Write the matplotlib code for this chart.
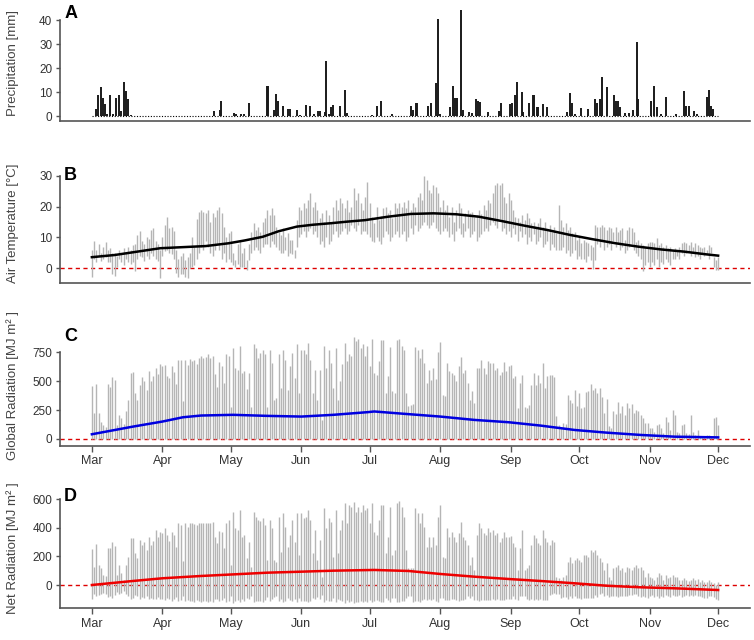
import numpy as np
import pandas as pd
import matplotlib
matplotlib.use("Agg")
import matplotlib.pyplot as plt

plt.rcParams['font.family'] = ['Liberation Sans', 'DejaVu Sans']

# --- data (day 0 = 1 March) ---
start = pd.Timestamp('2021-03-01')
end = pd.Timestamp('2021-12-01')

# precipitation events: day position, amount [mm]
prec_day = [1.9, 2.9, 4.0, 5.1, 5.9, 6.6, 8.1, 9.1, 10.7, 11.7, 12.7, 14.1, 15.1, 16.0, 17.1,
            53.7, 56.1, 56.8, 62.2, 63.1, 65.7, 66.6, 68.8, 76.9, 77.3, 79.8, 81.0, 81.7, 83.9,
            86.1, 87.1, 90.0, 91.2, 94.0, 95.9, 97.4, 99.1, 100.3, 102.5, 102.9, 104.0, 105.0,
            106.1, 109.1, 111.0, 112.0, 123.0, 125.0, 126.8, 132.0, 140.0, 141.0, 142.2, 142.9,
            147.8, 148.8, 151.0, 152.0, 152.7, 157.3, 158.7, 159.5, 160.2, 162.0, 163.1, 165.6,
            166.8, 168.6, 169.6, 170.5, 174.0, 178.8, 179.5, 183.6, 184.7, 185.7, 186.9, 188.8,
            189.5, 192.0, 193.5, 194.2, 195.3, 196.1, 198.3, 199.7, 208.5, 210.0, 211.0, 212.0,
            215.0, 217.9, 221.0, 221.7, 223.2, 224.2, 226.0, 229.3, 230.0, 231.2, 231.9, 234.0,
            235.9, 237.8, 239.3, 240.0, 245.7, 246.9, 248.1, 250.1, 252.0, 256.4, 260.1, 261.1,
            262.3, 264.2, 265.6, 269.9, 270.8, 271.8, 272.8]
prec_mm = [2.9, 8.6, 12.1, 7.4, 5.0, 1.0, 8.9, 1.0, 7.4, 8.9, 2.0, 14.1, 10.3, 7.1, 0.6,
           2.0, 2.7, 6.3, 1.4, 1.0, 1.0, 1.0, 5.6, 12.4, 12.4, 2.7, 9.3, 6.3, 4.1,
           2.9, 3.1, 2.7, 0.6, 4.4, 4.1, 1.0, 2.0, 2.0, 1.7, 22.9, 1.0, 3.9,
           4.4, 4.1, 10.7, 1.4, 0.6, 4.1, 6.3, 1.0, 4.1, 2.7, 5.3, 5.3,
           4.1, 5.6, 13.6, 40.3, 1.0, 3.6, 12.4, 7.4, 7.4, 44.1, 2.7, 1.7,
           1.4, 7.0, 6.3, 5.9, 1.7, 2.0, 5.6, 5.0, 5.6, 8.6, 14.1, 10.0,
           1.7, 5.3, 8.9, 8.9, 3.6, 3.9, 4.9, 3.6, 1.7, 9.6, 5.3, 1.0,
           3.4, 3.1, 7.1, 5.3, 7.0, 16.3, 12.0, 8.9, 6.3, 6.3, 3.9, 1.4,
           1.4, 2.4, 30.7, 7.0, 6.3, 12.7, 3.6, 1.0, 8.1, 1.0, 10.3, 4.1,
           4.1, 2.0, 1.0, 8.1, 11.0, 4.1, 3.1]

# daily air temperature range [degC]
tmax = [6, 8.8, 6, 8, 5, 7, 8.6, 6, 6.5, 5,
        5, 4, 6, 5, 6.5, 5, 7, 6, 7.5, 8,
        10.8, 12, 9, 8, 10, 9.5, 12.4, 13, 9, 8,
        6, 10, 14, 16.7, 13, 13.5, 12, 6, 3, 4,
        5, 2.7, 3.8, 5, 10, 7, 16, 18.3, 18.9, 18.3,
        17.8, 18.9, 15, 17.8, 16.7, 18.9, 20, 17.8, 13.5, 10.2,
        11.3, 12, 4.9, 2.7, 8, 9.2, 4.9, 6.5, 2.7, 8,
        11.9, 14.6, 12.4, 13.5, 11.9, 15.1, 16.2, 18.9, 17.3, 19.4,
        17.3, 13.5, 11.9, 10.8, 12.9, 10.2, 11.3, 9.2, 9.2, 5.9,
        15.6, 20, 18.9, 21, 19.4, 22, 24.3, 20, 21.6, 18.9,
        16.2, 17.8, 15.1, 18.9, 17.3, 14.6, 20, 22.1, 18.9, 22.7,
        21, 19.4, 22.1, 18.3, 20, 25.9, 22.1, 24.3, 21, 18.9,
        23.2, 28, 21, 16.7, 14.6, 20,
        15.6, 17, 19.4, 20, 17.8, 18.9, 16.2, 21, 19.4, 21,
        20, 21.6, 19.4, 22.1, 18.9, 21, 20, 23.2, 24.3, 22,
        30, 28.6, 25.4, 24.3, 27, 26.4, 24.3, 20, 22.1, 18.9,
        20.5, 16.7, 19.9, 15.1, 18.9, 21, 19.4, 14.6, 17.8, 18.9,
        17.8, 18.3, 16.7, 17.3, 18.9, 17.5, 20.5, 19, 22.1, 21,
        24.3, 27, 27.5, 27, 27.5, 23.2, 21, 24.3, 22.1, 18.9,
        16.7, 16.2, 15.1, 17.3, 15.6, 17.8, 16.2, 14.6, 15.1, 13.5,
        14.6, 16.2, 13.5, 15.1, 12.4, 14, 11.9, 13.5, 11.3, 20.5,
        15.6, 13.5, 14.6, 12.4, 13.5, 11.3, 11.9, 9.2, 10.2, 8.1,
        9.2, 8.6, 8.1, 7.5, 7, 14, 13.5, 13.5, 14, 13.5,
        12.4, 13.5, 12.9, 11.9, 13.5, 11.9, 12.4, 12.9, 9.2, 12.4,
        13.5, 12.9, 11.9, 8.6, 9.2, 8.1, 7.5, 7, 8.1, 8.6,
        8.6, 8.1, 9.7, 7.5, 8.1, 7, 7.5, 6.5, 7, 5.9,
        6.5, 5.9, 7, 8.1, 8.6, 8.1, 7.5, 8.6, 7, 8.1,
        7.5, 7, 6.5, 7, 5.9, 7.5, 7, 3.8, 2.7, 3.8]
tmin = [-2.7, 3, 2, 4, 2.5, 3, 3.5, 2, 2, -2,
        -2.5, 0.5, 3, 2, 1, 3, 2, 1.5, 2, -1,
        3, 4, 3.5, 2.5, 4, 3, 5, 4, 3, 2.5,
        -3.2, 4, 5.5, 6, 5, 4.5, 3, -1.6, -2.7, -2,
        -2, -2.7, -3.2, 0, 0.5, 1, 3, 5, 7, 6,
        9, 7, 5, 4, 6, 8, 6, 3, 5, 2,
        3, 2, 1, 0.3, 1.5, 0.3, 0.5, 0.5, -0.5, 2.7,
        5, 6, 7, 6, 5, 7, 8, 8, 7, 9,
        8, 7, 6, 5, 5, 6, 4, 5, 4.5, 3.2,
        7, 10, 11, 12, 10, 12, 13, 11, 12, 10,
        8, 9, 7, 10, 8, 9, 11, 12, 10, 11,
        12, 13, 11, 12, 14, 13, 12, 14, 11, 12,
        12, 11, 10, 9, 8.6, 10,
        9, 8, 10, 12, 11, 9, 10, 11, 12, 10,
        11, 12, 9, 10, 13, 11, 14, 12, 13, 14,
        15, 14, 13, 14, 15, 13, 12, 11, 12, 13,
        12, 10, 11, 9, 12, 13, 11, 10, 12, 13,
        10, 11, 12, 9, 10, 11, 12, 13, 12, 14,
        15, 14, 13, 16, 12, 13, 11, 12, 10, 13,
        11, 9, 12, 10, 11, 8, 10, 9, 11, 8,
        9, 10, 7, 8, 9, 6, 8, 7, 6, 5.9,
        6, 7, 5, 6, 4, 5, 6, 3, 4, 3,
        3, 2, 4, 2.7, -0.3, 2.7, 8, 7, 9, 6,
        7, 8, 6, 9, 7, 8, 6, 7, 5, 6,
        7, 8, 6, 5, 4, 3, -1, 1, 2, 0.5,
        2, 1, 3, 0.5, 2, 1.5, 3, 2, 1, 3,
        3, 4, 3, 5, 4, 5, 5.5, 4, 5, 3.5,
        4, 3, 5, 4, 4.5, 3, 5, 0.5, -0.5, -0.5]

# daily maximum global radiation
glob_max = [455, 223, 475, 223, 150, 122, 107, 475, 450, 536,
            513, 122, 209, 180, 128, 244, 339, 571, 580, 397,
            339, 470, 536, 499, 426, 592, 499, 548, 615, 565,
            652, 629, 644, 542, 528, 629, 577, 475, 687, 687,
            325, 687, 644, 693, 673, 680, 652, 702, 716, 702,
            710, 731, 702, 716, 565, 450, 664, 629, 484, 731,
            716, 281, 789, 615, 600, 803, 571, 585, 432, 571,
            281, 818, 789, 702, 745, 774, 731, 281, 768, 658,
            339, 354, 731, 441, 768, 687, 426, 629, 745, 528,
            818, 397, 774, 774, 731, 832, 687, 397, 600, 339,
            600, 165, 803, 615, 774, 658, 441, 789, 339, 499,
            652, 832, 673, 731, 722, 881, 847, 861, 789, 820,
            716, 803, 629,
            867, 571, 557, 673, 855, 855, 397, 548, 797, 412,
            397, 852, 861, 803, 774, 397, 287, 290, 300, 797, 768,
            702, 780, 658, 484, 600, 513, 615, 519, 751, 838,
            383, 368, 658, 592, 571, 557, 499, 629, 710, 571,
            600, 484, 339, 412, 310, 615, 615, 687, 615, 565,
            673, 658, 658, 600, 615, 557, 577, 664, 585, 629, 640,
            528, 542, 267, 484, 557, 281, 267, 296, 470, 571,
            470, 557, 484, 658, 441, 548, 557, 557, 540, 200, 122,
            93, 142, 130, 383, 339, 310, 426, 287, 397, 267,
            281, 403, 412, 478, 426, 441, 397, 441, 362, 223,
            345, 113, 93, 238, 217, 316, 223, 287, 209, 310,
            267, 304, 223, 252, 240, 209, 180, 142, 136, 93, 93,
            64, 122, 128, 93, 49, 188, 150, 78, 252, 209,
            64, 55, 122, 130, 49, 40, 209, 64, 35, 78, 20,
            26, 20, 35, 35, 26, 180, 186, 122]

# daily net radiation range
net_max = [249, 128, 284, 140, 116, 70, 63, 256, 256, 302,
           272, 70, 140, 81, 35, 140, 198, 326, 326, 221,
           186, 314, 279, 302, 244, 337, 279, 309, 384, 337,
           372, 360, 395, 349, 309, 372, 349, 267, 430, 419,
           170, 430, 407, 430, 430, 423, 419, 430, 430, 430,
           430, 430, 430, 442, 337, 291, 379, 372, 256, 430,
           453, 140, 512, 395, 384, 523, 337, 349, 186, 302,
           128, 512, 477, 453, 449, 465, 419, 174, 453, 395,
           174, 163, 477, 232, 500, 407, 267, 349, 453, 302,
           505, 209, 500, 465, 477, 523, 453, 221, 384, 174,
           314, 58, 535, 395, 465, 442, 198, 523, 221, 384,
           453, 570, 430, 558, 547, 579, 512, 547, 512, 558,
           523, 535, 430,
           570, 372, 349, 453, 558, 558, 221, 337, 547, 209,
           244, 570, 588, 547, 477, 244, 116, 116, 120, 535, 500,
           430, 500, 407, 267, 337, 267, 337, 279, 477, 558,
           198, 186, 395, 337, 372, 337, 302, 360, 442, 337,
           314, 279, 140, 198, 105, 349, 430, 395, 360, 349,
           395, 372, 384, 349, 360, 302, 326, 372, 337, 337, 340,
           291, 267, 105, 256, 384, 105, 116, 140, 279, 349,
           326, 291, 279, 384, 326, 302, 279, 314, 300, 58, 47,
           35, 58, 70, 163, 198, 151, 174, 186, 174, 163,
           209, 209, 198, 244, 232, 244, 209, 186, 163, 105,
           151, 58, 35, 116, 128, 140, 105, 116, 93, 128,
           116, 105, 128, 140, 120, 128, 105, 58, 81, 58, 47,
           35, 58, 81, 70, 35, 70, 47, 58, 70, 58,
           58, 35, 35, 47, 35, 30, 35, 47, 35, 42, 23,
           35, 23, 23, 35, 23, 12, 0, 23]
net_min = [-95, -60, -80, -70, -65, -55, -60, -85, -75, -90,
           -70, -50, -60, -55, -45, -65, -75, -95, -90, -70,
           -80, -95, -85, -90, -75, -100, -90, -95, -100, -85,
           -100, -95, -105, -90, -95, -110, -100, -85, -110, -105,
           -80, -110, -105, -115, -110, -120, -105, -115, -120, -110,
           -115, -120, -110, -118, -100, -95, -110, -105, -90, -120,
           -115, -80, -125, -110, -105, -120, -100, -110, -90, -100,
           -80, -120, -115, -110, -112, -118, -105, -85, -115, -100,
           -85, -80, -115, -95, -120, -110, -90, -105, -115, -95,
           -120, -90, -115, -110, -112, -120, -110, -90, -100, -85,
           -100, -70, -120, -105, -115, -110, -90, -120, -95, -105,
           -110, -125, -105, -120, -115, -125, -118, -120, -115, -120,
           -115, -118, -105, -120, -110, -105, -110, -120, -120, -90,
           -105, -118, -90, -90, -120, -122, -115, -112, -90, -80,
           -75, -118, -115, -110, -118, -108, -95, -105, -100, -108,
           -100, -115, -122, -90, -88, -108, -105, -102, -100, -96,
           -104, -110, -102, -105, -95, -80, -90, -78, -106, -108,
           -112, -106, -102, -108, -106, -106, -100, -102, -98, -106,
           -102, -104, -100, -100, -98, -75, -95, -105, -80, -78,
           -80, -100, -104, -98, -102, -95, -106, -96, -102, -104,
           -102, -70, -60, -55, -60, -62, -90, -85, -82, -95,
           -80, -90, -78, -88, -92, -96, -90, -94, -92, -88,
           -90, -70, -85, -60, -55, -75, -72, -85, -78, -80,
           -75, -82, -76, -80, -74, -78, -72, -70, -65, -62,
           -80, -85, -75, -82, -90, -78, -70, -85, -80, -88,
           -75, -82, -70, -78, -85, -72, -80, -76, -70, -82,
           -75, -70, -80, -72, -78, -70, -74, -80, -85, -90,
           -88, -80, -75, -85, -95, -105]

# smoothed seasonal curves (day, value)
temp_fit_day = [0, 10, 30, 50, 60, 67, 75, 82, 90, 97, 105, 112, 120, 130, 140, 150, 160,
                170, 180, 190, 200, 210, 220, 230, 240, 250, 260, 270, 275]
temp_fit = [3.6, 4.3, 6.5, 7.2, 8.1, 9.0, 10.2, 12.0, 13.5, 14.1, 14.6, 15.1, 15.6, 16.7,
            17.6, 17.8, 17.5, 16.7, 15.3, 13.8, 12.4, 10.8, 9.4, 8.1, 7.0, 6.1, 5.4, 4.5, 4.1]
glob_fit_day = [0, 18, 31, 40, 48, 62, 77, 92, 106, 121, 124, 139, 153, 168, 183, 197,
                212, 226, 241, 256, 275]
glob_fit = [41, 107, 151, 188, 203, 209, 200, 194, 209, 232, 238, 215, 194, 165, 145, 116,
            78, 55, 35, 20, 14]
net_fit_day = [0, 18, 31, 48, 62, 77, 92, 106, 124, 139, 153, 168, 183, 197, 212, 226,
               241, 256, 275]
net_fit = [0, 28, 47, 63, 74, 86, 93, 100, 105, 98, 77, 58, 42, 28, 12, -5, -16, -23, -35]

# --- plotting ---
days_t = np.arange(len(tmax))
days_g = np.arange(len(glob_max))
days_n = np.arange(len(net_max))
n_days = (end - start).days
months = pd.date_range(start, end, freq='MS')
month_pos = [(m - start).days for m in months]
month_lab = [m.strftime('%b') for m in months]

GREY = '#b5b5b5'
AXC = '#555555'
TXT = '#333333'

fig = plt.figure(figsize=(7.54, 6.4), dpi=100)
W = 754.0
H = 640.0


def make_ax(top_px, bottom_px):
    return fig.add_axes([60 / W, 1 - bottom_px / H, 690 / W, (bottom_px - top_px) / H])


axA = make_ax(5, 121)
axB = make_ax(163, 283.3)
axC = make_ax(325, 445.7)
axD = make_ax(487, 608.3)

specs = [
    (axA, (-2.08, 46.25), [0, 10, 20, 30, 40], 'Precipitation [mm]', 'A', 1.0),
    (axB, (-4.86, 34.1), [0, 10, 20, 30], 'Air Temperature [°C]', 'B', 0.97),
    (axC, (-58, 986), [0, 250, 500, 750], 'Global Radiation [MJ m² ]', 'C', 0.975),
    (axD, (-162.6, 684), [0, 200, 400, 600], 'Net Radiation [MJ m² ]', 'D', 0.99),
]

for ax, ylim, yt, ylab, letter, ly in specs:
    ax.set_xlim(-14, 289)
    ax.set_ylim(*ylim)
    ax.set_yticks(yt)
    ax.spines['top'].set_visible(False)
    ax.spines['right'].set_visible(False)
    for s in ('left', 'bottom'):
        ax.spines[s].set_color(AXC)
        ax.spines[s].set_linewidth(1.2)
    ax.spines['left'].set_bounds(ylim[0], yt[-1])
    ax.tick_params(axis='y', length=3, width=1, color=AXC, labelsize=8.5,
                   labelcolor=TXT, pad=2.5)
    ax.set_ylabel(ylab, fontsize=9.5, color='#444444')
    ax.yaxis.set_label_coords(-0.059, 0.5)
    ax.text(0.006, ly, letter, transform=ax.transAxes, fontsize=13,
            fontweight='bold', va='top', ha='left', color='black')

for ax in (axA, axB):
    ax.set_xticks([])

for ax in (axC, axD):
    ax.set_xticks(month_pos)
    ax.set_xticklabels(month_lab)
    ax.tick_params(axis='x', length=4, width=1, color=AXC, labelsize=9,
                   labelcolor=TXT, pad=3)

# A: precipitation
axA.hlines(0, 0, n_days, color='black', lw=0.8, linestyles=(0, (1, 1.5)))
axA.vlines(prec_day, 0, prec_mm, color='#1a1a1a', lw=1.4)

# B: air temperature
axB.axhline(0, color='#dd0000', lw=1, ls=(0, (3, 2.5)))
axB.vlines(days_t, tmin, tmax, color=GREY, lw=1.0)
axB.plot(temp_fit_day, temp_fit, color='black', lw=1.8)

# C: global radiation
axC.axhline(0, color='#dd0000', lw=1, ls=(0, (3, 2.5)))
axC.vlines(days_g, 0, glob_max, color=GREY, lw=1.0)
axC.plot(glob_fit_day, glob_fit, color='#0000e0', lw=1.8)

# D: net radiation
axD.axhline(0, color='#dd0000', lw=1, ls=(0, (3, 2.5)))
axD.vlines(days_n, net_min, net_max, color=GREY, lw=1.0)
axD.plot(net_fit_day, net_fit, color='#ee0000', lw=1.8)

fig.savefig('out.png', dpi=100)
